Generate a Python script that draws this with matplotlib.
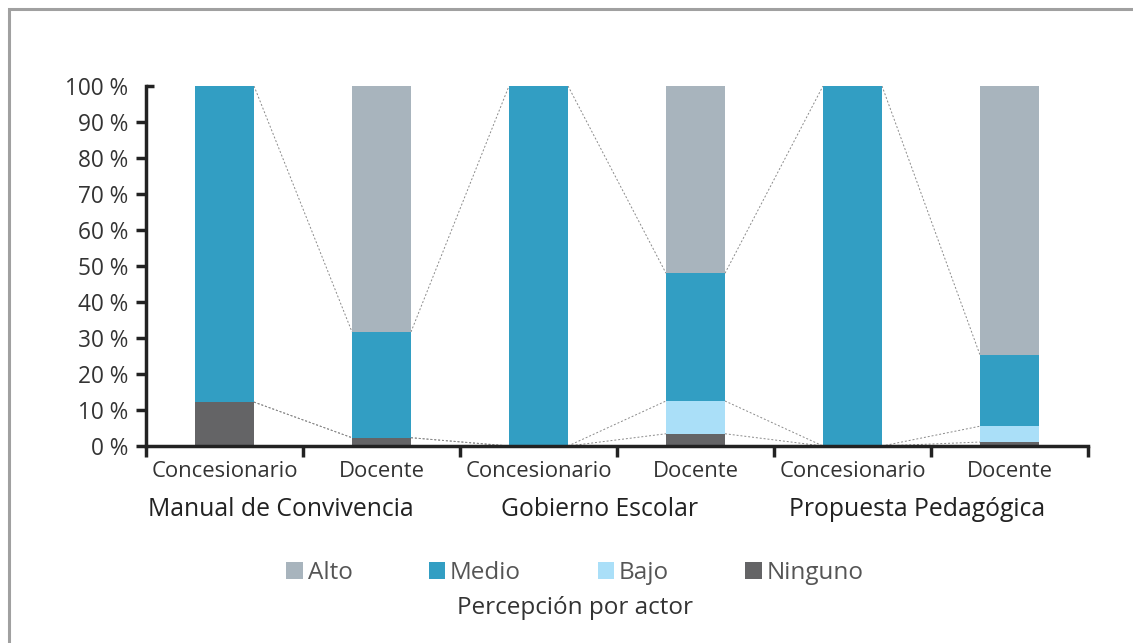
import matplotlib
matplotlib.use("Agg")
import matplotlib.pyplot as plt
import numpy as np
from matplotlib.patches import Rectangle, Patch

plt.rcParams['font.family'] = ['Open Sans', 'DejaVu Sans']

subcats = ["Concesionario", "Docente", "Concesionario", "Docente", "Concesionario", "Docente"]
groups = ["Manual de Convivencia", "Gobierno Escolar", "Propuesta Pedagógica"]
series_names = ["Alto", "Medio", "Bajo", "Ninguno"]
ninguno = [12.2, 2.3, 0, 3.4, 0, 1.1]
bajo = [0, 0, 0, 9.1, 0, 4.4]
medio = [87.8, 29.4, 100, 35.5, 100, 19.8]
alto = [0, 68.3, 0, 52.0, 0, 74.7]
yticks = [0, 10, 20, 30, 40, 50, 60, 70, 80, 90, 100]

colors = {"Alto": "#a8b4bd", "Medio": "#329ec3", "Bajo": "#aadff8", "Ninguno": "#646466"}
txt = "#333333"

fig = plt.figure(figsize=(11.33, 6.43), dpi=100)
ax = fig.add_axes([146/1133, 1-446/643, (1088-146)/1133, 360/643])

x = np.arange(len(subcats))
w = 0.376
stack_order = [("Ninguno", ninguno), ("Bajo", bajo), ("Medio", medio), ("Alto", alto)]
bottom = np.zeros(len(x))
tops = {}
for name, vals in stack_order:
    v = np.array(vals, dtype=float)
    ax.bar(x, v, w, bottom=bottom, color=colors[name], linewidth=0, zorder=2)
    bottom = bottom + v
    tops[name] = bottom.copy()

# series lines (except top series)
for name in ["Ninguno", "Bajo", "Medio"]:
    t = tops[name]
    for i in range(len(x) - 1):
        ax.plot([x[i] + w/2, x[i+1] - w/2], [t[i], t[i+1]], ls=(0, (2, 2)),
                color="#8a8a8a", lw=0.7, zorder=1)

ax.set_xlim(-0.5, len(x) - 0.5)
ax.set_ylim(0, 100)
ax.set_yticks(yticks)
ax.set_yticklabels([f"{t} %" for t in yticks], fontsize=16.3, color=txt)
ax.tick_params(axis='y', length=7, width=2.5, color="#222222", pad=6)
ax.yaxis.get_major_ticks()[-1].tick1line.set_visible(False)
ax.set_xticks(np.arange(-0.5, len(x)))
ax.set_xticklabels([])
ax.tick_params(axis='x', length=8, width=2.5, color="#222222", direction='out')
for s in ["top", "right"]:
    ax.spines[s].set_visible(False)
for s in ["left", "bottom"]:
    ax.spines[s].set_linewidth(2.5)
    ax.spines[s].set_color("#222222")
# small inward cap at top of y axis
ax.plot([0, 0.008], [1, 1], transform=ax.transAxes, color="#222222", lw=2.5,
        clip_on=False, solid_capstyle='butt')

for i, lab in enumerate(subcats):
    ax.text(x[i], -0.072, lab, transform=ax.get_xaxis_transform(), ha='center',
            va='center', fontsize=15.8, color=txt)
for gx, g in zip([0.36, 2.39, 4.41], groups):
    ax.text(gx, -0.175, g, transform=ax.get_xaxis_transform(), ha='center',
            va='center', fontsize=17.8, color="#222222")

handles = [Patch(facecolor=colors[n], edgecolor='none') for n in series_names]
leg = fig.legend(handles, series_names, loc='center', bbox_to_anchor=(575/1133, 1-573/643),
                 ncol=4, frameon=False, fontsize=17.5, handlelength=0.67, handleheight=0.67,
                 handletextpad=0.2, columnspacing=3.15)
for t in leg.get_texts():
    t.set_color("#555555")
fig.text(575/1133, 1-608/643, "Percepción por actor", ha='center', va='center',
         fontsize=17.5, color=txt)

# outer frame
fig.add_artist(Rectangle((8.5/1133, -0.1), 1.2, 1 - 8.5/643 + 0.1, transform=fig.transFigure,
                         fill=False, edgecolor="#a0a0a0", lw=2.2))

fig.savefig("out.png", dpi=100)
